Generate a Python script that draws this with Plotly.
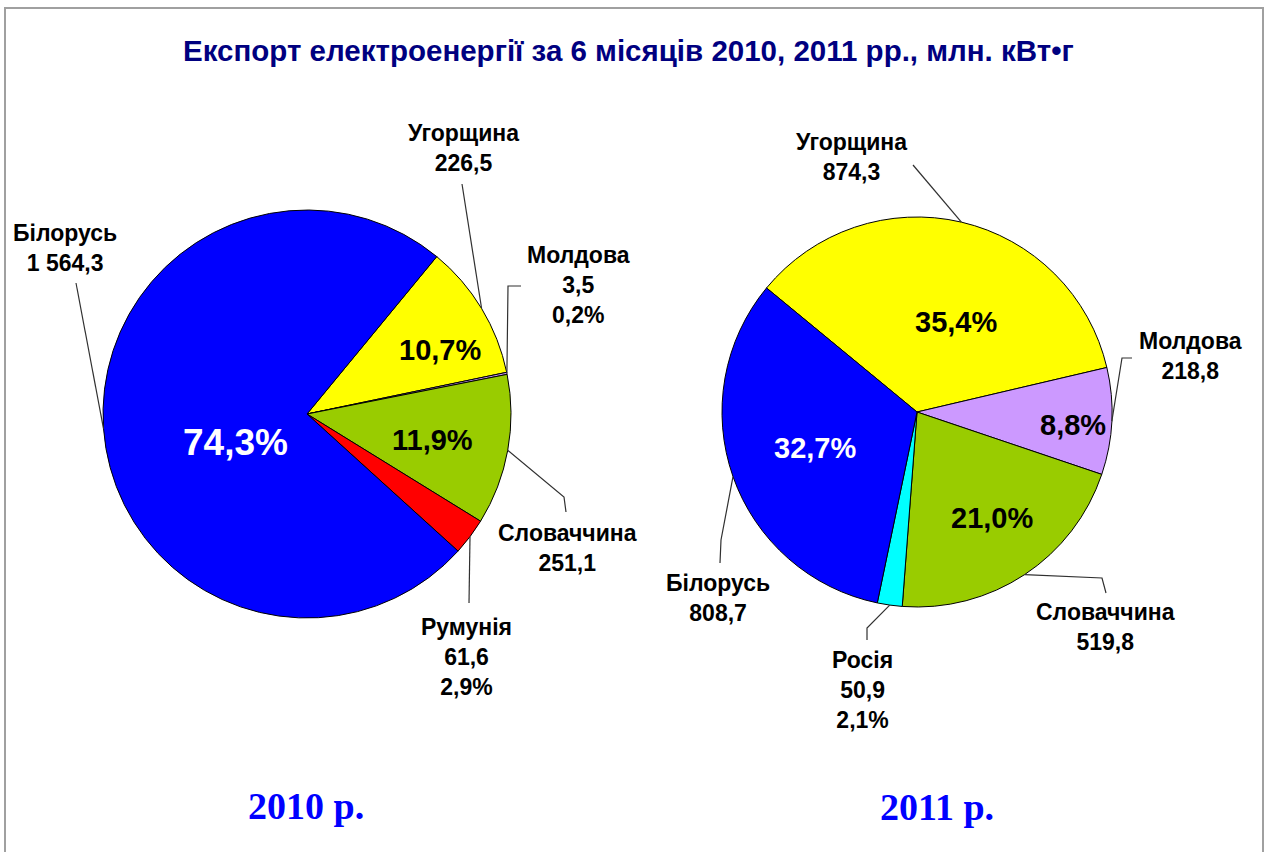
import math
import plotly.graph_objects as go

# ---------------- data ----------------
countries_2010 = ["Угорщина", "Молдова", "Словаччина", "Румунія", "Білорусь"]
values_2010 = [226.5, 3.5, 251.1, 61.6, 1564.3]
pct_2010 = ["10,7%", "0,2%", "11,9%", "2,9%", "74,3%"]

countries_2011 = ["Угорщина", "Молдова", "Словаччина", "Росія", "Білорусь"]
values_2011 = [874.3, 218.8, 519.8, 50.9, 808.7]
pct_2011 = ["35,4%", "8,8%", "21,0%", "2,1%", "32,7%"]

year_labels = ["2010 р.", "2011 р."]
title_text = "Експорт електроенергії за 6 місяців 2010, 2011 рр., млн. кВт•г"

# ---------------- styling / layout ----------------
W, H = 1266, 852
colors_2010 = ["#FFFF00", "#CC99FF", "#99CC00", "#FF0000", "#0000FF"]
colors_2011 = ["#FFFF00", "#CC99FF", "#99CC00", "#00FFFF", "#0000FF"]

pies = [
    dict(names=countries_2010, values=values_2010, pct=pct_2010, colors=colors_2010,
         cx=307, cy=414, r=204, rot=39.5,
         label_pos=[(463, 148), (578, 285), (567, 548), (466, 657), (65, 248)],
         pct_outside=[False, True, False, True, False],
         leader=[[(462, 184)], [(508, 286), (521, 286)], [(564, 497), (566, 512)],
                 [(469, 603)], [(76, 283)]],
         inner=[((440, 350), 29, "black"), None, ((432, 440), 29, "black"), None,
                ((235, 442), 37, "white")],
         year_pos=(306, 806)),
    dict(names=countries_2011, values=values_2011, pct=pct_2011, colors=colors_2011,
         cx=917, cy=412, r=195, rot=309.5,
         label_pos=[(851, 157), (1190, 356), (1105, 627), (862, 690), (718, 598)],
         pct_outside=[False, False, False, True, False],
         leader=[[(913, 165)], [(1122, 358), (1132, 358)], [(1102, 578), (1106, 593)],
                 [(867, 628), (867, 640)], [(721, 540), (720, 563)]],
         inner=[((956, 322), 29, "black"), ((1073, 425), 29, "black"),
                ((992, 518), 29, "black"), None, ((815, 448), 29, "white")],
         year_pos=(937, 807)),
]

LABEL_FONT = "Liberation Sans, Arial, sans-serif"


def fmt_val(v):
    s = f"{v:,.1f}".replace(",", " ").replace(".", ",")
    return s


def px(x, y):
    return x / W, 1 - y / H


fig = go.Figure()
annotations = []
shapes = []

for p in pies:
    x0, _ = px(p["cx"] - p["r"], 0)
    x1, _ = px(p["cx"] + p["r"], 0)
    _, y1 = px(0, p["cy"] - p["r"])
    _, y0 = px(0, p["cy"] + p["r"])
    fig.add_trace(go.Pie(
        labels=p["names"], values=p["values"], sort=False, direction="clockwise",
        rotation=p["rot"], textinfo="none", hoverinfo="label+value+percent",
        marker=dict(colors=p["colors"], line=dict(color="black", width=1)),
        domain=dict(x=[x0, x1], y=[y0, y1]), showlegend=False,
    ))

    total = sum(p["values"])
    start = p["rot"]
    for i, (name, v) in enumerate(zip(p["names"], p["values"])):
        span = v / total * 360
        mid = math.radians(start + span / 2)
        start += span
        ex = p["cx"] + p["r"] * math.sin(mid)
        ey = p["cy"] - p["r"] * math.cos(mid)
        pts = [(ex, ey)] + p["leader"][i]
        path = "M " + " L ".join(f"{a:.1f},{b:.1f}" for a, b in pts)
        shapes.append(dict(type="path", path=path, xref="x", yref="y",
                           line=dict(color="#303030", width=1.2), layer="above"))
        txt = f"{name}<br>{fmt_val(v)}"
        if p["pct_outside"][i]:
            txt += f"<br>{p['pct'][i]}"
        lx, ly = p["label_pos"][i]
        annotations.append(dict(x=lx, y=ly, xref="x", yref="y", text=txt, showarrow=False,
                                xanchor="center", yanchor="middle", align="center",
                                font=dict(family=LABEL_FONT, size=23, color="black",
                                          weight="bold")))
        inn = p["inner"][i]
        if inn is not None:
            (ix, iy), fs, col = inn
            annotations.append(dict(x=ix, y=iy, xref="x", yref="y", text=p["pct"][i],
                                    showarrow=False, xanchor="center", yanchor="middle",
                                    font=dict(family=LABEL_FONT, size=fs, color=col,
                                              weight="bold")))

for p, yl in zip(pies, year_labels):
    yx, yy = p["year_pos"]
    annotations.append(dict(x=yx, y=yy, xref="x", yref="y", text=yl, showarrow=False,
                            xanchor="center", yanchor="middle",
                            font=dict(family="Liberation Serif, Times New Roman, serif",
                                      size=38, color="#0000FF", weight="bold")))

annotations.append(dict(x=628, y=50, xref="x", yref="y", text=title_text, showarrow=False,
                        xanchor="center", yanchor="middle",
                        font=dict(family=LABEL_FONT, size=29.5, color="#000080", weight="bold")))

# outer frame
shapes.append(dict(type="rect", xref="x", yref="y", x0=5, y0=8, x1=1263, y1=870,
                   line=dict(color="#A0A0A0", width=2), layer="below"))

fig.update_layout(
    width=W, height=H, margin=dict(l=0, r=0, t=0, b=0),
    paper_bgcolor="white", plot_bgcolor="white",
    xaxis=dict(range=[0, W], visible=False, domain=[0, 1], fixedrange=True),
    yaxis=dict(range=[H, 0], visible=False, domain=[0, 1], fixedrange=True),
    annotations=annotations, shapes=shapes, showlegend=False,
)

fig.write_html("out.html", config={"displayModeBar": False},
               post_script="document.body.style.margin='0';document.body.style.overflow='hidden';")
